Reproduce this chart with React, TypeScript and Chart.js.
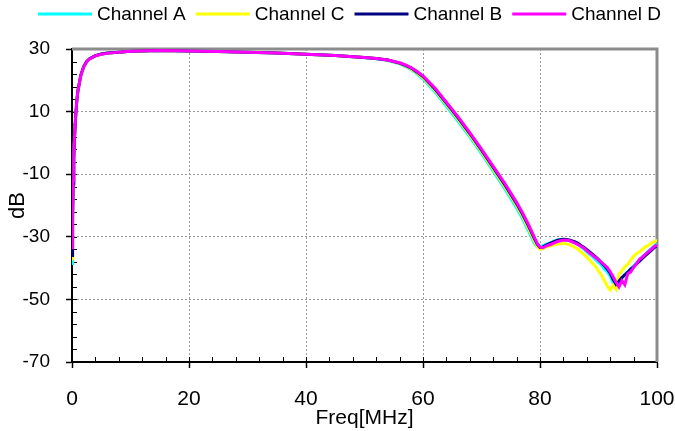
import React, { useEffect, useRef } from "react";
import { Chart, registerables } from "chart.js";

Chart.register(...registerables);

const FONT = "'Liberation Sans', Arial, Helvetica, sans-serif";

const seriesNames = ["Channel A", "Channel C", "Channel B", "Channel D"];
const seriesColors = ["#00FFFF", "#FFFF00", "#000080", "#FF00FF"];

const xMin = 0;
const xMax = 100;
const xStep = 20;
const yMin = -70;
const yMax = 30;
const yStep = 20;
const minorStepX = 4;
const minorStepY = 4;

const freqMHz = [
  0, 0.1, 0.2, 0.3, 0.4, 0.6, 0.8, 1, 1.5, 2, 2.5, 3, 4, 5, 6, 8, 10, 15, 20, 25,
  30, 35, 40, 45, 50, 52, 54, 56, 57, 58, 59, 60, 62, 64, 66, 68, 70, 72, 74, 76,
  77, 78, 79, 79.5, 80, 80.5, 81, 82, 83, 84, 85, 86, 86.5, 87, 87.5, 88, 88.5, 89, 89.5, 90,
  90.5, 91, 91.5, 92, 92.5, 93, 93.5, 94, 94.5, 95, 95.5, 96, 96.5, 97, 97.5, 98, 98.5, 99, 99.5, 100,
];

const channelA = [
  -38.5, -26, -14, -6, 0, 7.5, 12.7, 16.3, 21.4, 24.2, 25.8, 26.8, 27.8, 28.3, 28.6, 29, 29.3, 29.5, 29.4, 29.2,
  29, 28.7, 28.3, 27.9, 27.2, 26.9, 26.3, 25.3, 24.4, 23.4, 22, 20.4, 16.4, 11.7, 6.9, 1.9, -3.4, -9, -14.7, -20.8,
  -24.2, -28, -32, -33.2, -33.2, -32.8, -32.4, -31.7, -31, -30.8, -31.2, -31.9, -32.4, -33.2, -33.9, -34.8, -35.6, -36.3, -37.3, -38.2,
  -39, -40.3, -41.2, -42.6, -44.8, -45.6, -43.8, -43.2, -42, -41.2, -40.2, -39.4, -38.3, -37.4, -36.4, -35.6, -34.6, -33.8, -33, -32.2,
];

const channelC = [
  -37, -25, -13.5, -5.5, 0.2, 7.6, 12.8, 16.4, 21.5, 24.3, 25.9, 26.8, 27.8, 28.3, 28.6, 29, 29.3, 29.5, 29.4, 29.2,
  29, 28.7, 28.3, 27.9, 27.3, 27, 26.4, 25.4, 24.6, 23.6, 22.3, 20.8, 16.9, 12.3, 7.5, 2.5, -2.8, -8.4, -14, -20,
  -23.4, -27.2, -31.2, -33, -34, -33.8, -33.3, -32.8, -32.3, -32.1, -32.5, -33.4, -34, -34.8, -35.6, -36.5, -37.4, -38.6, -39.5, -41,
  -42.2, -44, -45.8, -47, -45.5, -46.8, -42, -40.8, -39.6, -38.8, -37.4, -36.2, -35.4, -34.8, -34, -33.2, -32.8, -32, -31.6, -31,
];

const channelB = [
  -36, -24, -13, -5, 0.5, 7.8, 13, 16.6, 21.6, 24.4, 26, 26.9, 27.9, 28.4, 28.7, 29, 29.3, 29.5, 29.4, 29.2,
  29, 28.7, 28.3, 27.9, 27.3, 27, 26.5, 25.5, 24.8, 23.9, 22.6, 21.2, 17.3, 12.7, 8, 3, -2.3, -7.8, -13.4, -19.4,
  -22.7, -26.4, -30.4, -32.3, -33.4, -33.3, -32.7, -31.9, -31.1, -30.8, -31, -31.6, -32.1, -32.8, -33.3, -34.1, -34.8, -35.6, -36.4, -37.3,
  -38.3, -39.2, -40.3, -41.6, -43.6, -45.2, -44.2, -43, -42.2, -41.3, -40.3, -39.6, -38.7, -37.8, -36.9, -36, -35.2, -34.4, -33.5, -32.8,
];

const channelD = [
  -33.5, -22, -12, -4, 1, 8, 13, 16.5, 21.5, 24.3, 25.9, 26.8, 27.8, 28.3, 28.6, 29, 29.3, 29.5, 29.4, 29.2,
  29, 28.7, 28.3, 27.9, 27.3, 27, 26.5, 25.6, 24.9, 24, 22.8, 21.4, 17.6, 13, 8.3, 3.3, -2, -7.5, -13, -19,
  -22.3, -26, -30, -32, -33.3, -33.5, -33, -32.3, -31.5, -31, -31.2, -32, -32.5, -33, -33.6, -34.4, -35.2, -35.9, -36.6, -37.4,
  -38.2, -39, -39.8, -41.2, -42.8, -44.5, -46, -44, -45.3, -41.8, -41.2, -39.8, -38.6, -37.2, -36.5, -35.6, -34.8, -34, -33.2, -32.6,
];

const lineLegend = {
  id: "lineLegend",
  afterDraw(chart: any) {
    const ctx = chart.ctx;
    ctx.save();
    ctx.font = `19px ${FONT}`;
    ctx.textBaseline = "middle";
    ctx.textAlign = "left";
    let x = 38;
    const y = 14;
    chart.data.datasets.forEach((ds: any) => {
      ctx.strokeStyle = ds.borderColor;
      ctx.lineWidth = 3;
      ctx.beginPath();
      ctx.moveTo(x, y);
      ctx.lineTo(x + 54, y);
      ctx.stroke();
      x += 54 + 5;
      ctx.fillStyle = "#000";
      ctx.fillText(ds.label, x, y + 1);
      x += ctx.measureText(ds.label).width + 10;
    });
    ctx.restore();
  },
};

const frame = {
  id: "frame",
  beforeDatasetsDraw(chart: any) {
    const { ctx, chartArea: a, scales } = chart;
    const xs = scales.x;
    const ys = scales.y;
    ctx.save();
    ctx.strokeStyle = "#000";
    ctx.lineWidth = 1;
    ctx.beginPath();
    for (let v = yMin; v <= yMax; v += minorStepY) {
      const py = Math.round(ys.getPixelForValue(v)) + 0.5;
      ctx.moveTo(a.left, py);
      ctx.lineTo(a.left + 5, py);
    }
    for (let v = xMin; v <= xMax; v += minorStepX) {
      const px = Math.round(xs.getPixelForValue(v)) + 0.5;
      ctx.moveTo(px, a.bottom);
      ctx.lineTo(px, a.bottom - 5);
    }
    ctx.stroke();
    ctx.strokeStyle = "#8c8c8c";
    ctx.lineWidth = 3;
    const yt = ys.getPixelForValue(yMax);
    const xr = xs.getPixelForValue(xMax);
    ctx.beginPath();
    ctx.moveTo(a.left, yt);
    ctx.lineTo(xr, yt);
    ctx.lineTo(xr, a.bottom);
    ctx.stroke();
    ctx.restore();
  },
};

export default function App() {
  const ref = useRef<HTMLCanvasElement>(null);

  useEffect(() => {
    if (!ref.current) return;
    const series = [channelA, channelC, channelB, channelD];
    const datasets = series.map((vals, i) => ({
      label: seriesNames[i],
      data: freqMHz.map((f, j) => ({ x: f, y: vals[j] })),
      borderColor: seriesColors[i],
      backgroundColor: seriesColors[i],
      borderWidth: 3,
      pointRadius: 0,
      tension: 0,
      order: series.length - 1 - i,
    }));

    const chart = new Chart(ref.current, {
      type: "line",
      data: { datasets },
      plugins: [frame, lineLegend],
      options: {
        responsive: false,
        animation: false,
        layout: { padding: { top: 49, right: 18, left: 0, bottom: 0 } },
        plugins: {
          legend: { display: false },
          tooltip: { enabled: false },
        },
        scales: {
          x: {
            type: "linear",
            min: xMin,
            max: xMax,
            afterFit: (s: any) => {
              s.height = 69;
              s.paddingLeft = 0;
              s.paddingRight = 0;
            },
            ticks: {
              stepSize: xStep,
              color: "#000",
              padding: 19,
              font: { family: FONT, size: 21 },
              maxRotation: 0,
            },
            grid: {
              color: (c: any) =>
                c.tick && (c.tick.value === xMin || c.tick.value === xMax) ? "rgba(0,0,0,0)" : "#9a9a9a",
              lineWidth: 1,
              tickColor: "#000",
              tickLength: 6,
              tickWidth: 1.5,
            },
            border: { color: "#000", width: 2, dash: [2, 2] },
            title: {
              display: true,
              text: "Freq[MHz]",
              color: "#000",
              font: { family: FONT, size: 21 },
              padding: { top: 0, bottom: 0 },
            },
          },
          y: {
            type: "linear",
            min: yMin,
            max: yMax,
            afterFit: (s: any) => {
              s.width = 72;
              s.paddingTop = 0;
              s.paddingBottom = 0;
            },
            ticks: {
              stepSize: yStep,
              color: "#000",
              padding: 16,
              font: { family: FONT, size: 19 },
            },
            grid: {
              color: (c: any) =>
                c.tick && (c.tick.value === yMin || c.tick.value === yMax) ? "rgba(0,0,0,0)" : "#9a9a9a",
              lineWidth: 1,
              tickColor: "#000",
              tickLength: 6,
              tickWidth: 1.5,
            },
            border: { color: "#000", width: 2, dash: [2, 2] },
            title: {
              display: true,
              text: "dB",
              color: "#000",
              font: { family: FONT, size: 22 },
              padding: { top: 5, bottom: 5 },
            },
          },
        },
      },
    } as any);

    return () => chart.destroy();
  }, []);

  return (
    <div style={{ position: "fixed", left: 0, top: 0, width: 675, height: 431, background: "#fff" }}>
      <canvas ref={ref} width={675} height={431} style={{ display: "block" }} />
    </div>
  );
}
